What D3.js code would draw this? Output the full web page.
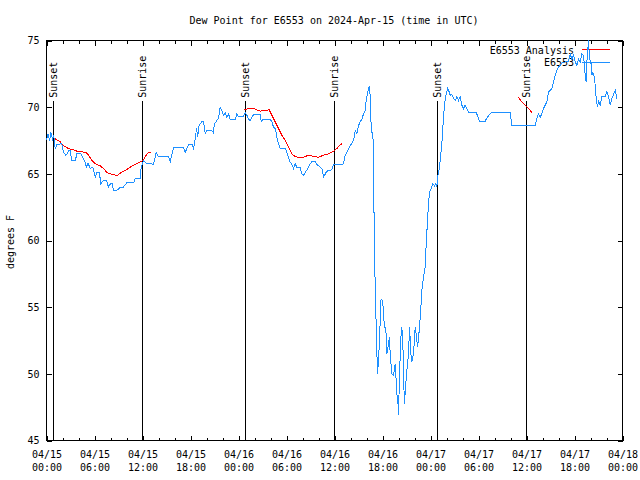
<!DOCTYPE html>
<html>
<head>
<meta charset="utf-8">
<script src="https://cdn.jsdelivr.net/npm/d3@7"></script>
<style>
  html, body { margin: 0; padding: 0; background: #fff; }
  svg { display: block; }
  text { font-family: "DejaVu Sans Mono", monospace; font-size: 10px; fill: #000; }
</style>
</head>
<body>
<svg id="chart" width="640" height="480"></svg>
<script>
// ---------------- data ----------------
const title = "Dew Point for E6553 on 2024-Apr-15 (time in UTC)";
const yLabel = "degrees F";
const startTime = "2024-04-15T00:00:00Z";
const endTime = "2024-04-18T00:00:00Z";
const yTickValues = [45, 50, 55, 60, 65, 70, 75];
const seriesNames = ["E6553 Analysis", "E6553"];
const seriesColors = ["#ff0000", "#1e90ff"];

// hours after 2024-04-15 00:00 UTC
const obsHours = [
  0.0, 0.2, 0.4, 0.55, 0.75, 0.9, 1.09, 1.3, 1.6, 1.9, 2.13, 2.4, 2.6, 2.75, 2.95, 3.17, 3.6, 3.8, 4.3, 4.63,
  4.8, 5.0, 5.2, 5.46, 5.8, 6.09, 6.3, 6.6, 6.8, 7.1, 7.5, 7.75, 8.0, 8.2, 8.38, 8.9, 9.21, 9.6, 10.05, 10.9,
  11.09, 11.7, 11.84, 12.13, 12.5, 13.1, 13.38, 13.71, 14.0, 15.25, 15.46, 15.88, 17.13, 17.34, 17.75, 18.2, 18.38, 18.59, 18.75, 18.9,
  19.05, 19.21, 19.4, 19.63, 19.84, 20.0, 20.67, 20.85, 21.0, 21.3, 21.5, 21.71, 21.9, 22.13, 22.35, 22.55, 22.75, 22.96, 23.59, 23.8,
  24.0, 24.63, 24.84, 25.05, 25.25, 25.45, 25.88, 26.71, 26.84, 27.13, 27.96, 28.17, 28.38, 28.6, 28.8, 29.0, 29.21, 29.84, 30.05, 30.25,
  30.45, 30.67, 30.88, 31.09, 31.3, 31.7, 31.92, 32.13, 32.35, 32.75, 32.95, 33.17, 33.6, 33.8, 34.2, 34.42, 34.63, 34.85, 35.05, 35.67,
  35.88, 36.71, 37.13, 37.34, 37.55, 37.96, 38.38, 38.59, 38.8, 39.0, 39.2, 39.42, 39.63, 39.84, 39.96, 40.13, 40.25, 40.38, 40.46, 40.55,
  40.67, 40.8, 40.88, 41.0, 41.17, 41.3, 41.38, 41.5, 41.63, 41.8, 41.92, 42.05, 42.21, 42.34, 42.46, 42.55, 42.75, 42.88, 42.96, 43.17,
  43.38, 43.59, 43.71, 43.8, 43.92, 44.0, 44.13, 44.3, 44.42, 44.55, 44.63, 44.75, 44.88, 45.05, 45.25, 45.38, 45.55, 45.67, 45.88, 46.09,
  46.21, 46.38, 46.63, 46.8, 46.92, 47.13, 47.34, 47.46, 47.63, 47.75, 47.88, 48.05, 48.3, 48.5, 48.67, 48.8, 48.88, 49.05, 49.21, 49.42,
  49.63, 49.75, 49.96, 50.13, 50.3, 50.46, 50.67, 50.88, 51.09, 51.3, 51.5, 51.71, 51.92, 52.13, 52.34, 52.55, 52.75, 53.71, 53.88, 54.13,
  54.84, 55.05, 55.46, 55.67, 57.96, 58.05, 58.17, 61.09, 61.3, 61.5, 61.71, 61.92, 62.13, 62.34, 62.55, 62.75, 62.96, 63.17, 63.38, 63.59,
  63.8, 64.0, 64.42, 64.84, 65.25, 65.46, 65.67, 65.88, 66.09, 66.3, 66.5, 66.71, 66.92, 67.13, 67.34, 67.46, 67.55, 67.75, 67.88, 68.05,
  68.17, 68.3, 68.46, 68.59, 68.71, 68.88, 69.0, 69.21, 69.42, 69.84, 70.05, 70.25, 70.46, 70.67, 70.88, 71.09, 71.3
];
const obsValues = [
  67.5, 68.0, 67.5, 68.1, 67.6, 67.9, 66.9, 67.2, 67.2, 67.3, 66.6, 66.4, 66.5, 66.75, 66.75, 66.0, 66.0, 66.5, 66.5, 66.1,
  65.9, 65.5, 65.8, 65.4, 65.5, 64.75, 65.1, 65.1, 64.25, 64.5, 64.5, 64.0, 64.25, 64.25, 63.75, 63.8, 64.0, 64.0, 64.33, 64.33,
  64.67, 64.67, 65.5, 66.0, 65.75, 65.75, 65.7, 66.6, 66.3, 66.3, 65.9, 66.95, 66.95, 66.6, 67.2, 67.2, 66.9, 67.6, 68.4, 67.8,
  68.6, 68.75, 68.9, 68.9, 68.0, 68.25, 68.25, 68.1, 68.75, 69.0, 69.2, 70.0, 69.75, 69.4, 69.6, 69.25, 69.5, 69.1, 69.1, 69.5,
  69.3, 69.3, 69.6, 69.4, 69.1, 69.0, 69.45, 69.45, 68.95, 69.1, 69.1, 68.9, 68.5, 68.4, 67.75, 67.25, 66.9, 66.9, 66.6, 66.25,
  65.9, 65.7, 65.4, 65.75, 65.5, 65.5, 65.0, 64.9, 65.1, 65.5, 65.75, 65.9, 65.9, 65.7, 65.5, 65.4, 64.75, 65.0, 65.2, 65.3,
  65.7, 65.7, 65.75, 66.4, 66.6, 67.1, 67.5, 68.25, 68.0, 68.6, 68.9, 69.1, 69.5, 69.75, 70.5, 71.0, 71.4, 71.6, 70.75, 69.0,
  68.1, 68.1, 65.1, 59.0, 54.5, 51.5, 50.0, 51.0, 52.5, 55.5, 55.6, 55.2, 53.75, 53.4, 53.0, 51.5, 52.25, 52.75, 51.5, 50.0,
  49.9, 50.75, 49.5, 48.5, 48.0, 46.9, 50.0, 52.75, 53.5, 52.25, 49.75, 47.75, 49.0, 50.25, 51.5, 53.5, 51.5, 50.9, 51.5, 53.5,
  53.0, 52.0, 53.5, 55.0, 56.25, 57.25, 58.0, 59.75, 61.5, 62.75, 63.6, 63.85, 64.25, 64.1, 64.25, 64.0, 64.75, 65.25, 66.0, 67.25,
  69.25, 70.25, 71.0, 71.4, 71.2, 70.9, 70.95, 70.65, 70.5, 70.8, 70.5, 70.8, 70.15, 69.9, 70.15, 69.9, 69.6, 69.6, 69.35, 68.95,
  68.95, 69.2, 69.5, 69.6, 69.6, 69.15, 68.6, 68.6, 69.15, 69.5, 69.25, 69.5, 69.9, 70.15, 70.4, 71.15, 71.25, 71.4, 71.9, 72.4,
  72.8, 73.0, 73.3, 73.4, 73.4, 74.0, 73.6, 73.9, 73.4, 73.15, 73.6, 73.4, 74.0, 73.9, 72.4, 71.9, 73.4, 75.0, 73.6, 73.4,
  72.4, 72.6, 72.3, 71.65, 70.65, 70.0, 70.5, 70.15, 70.8, 70.8, 71.15, 70.8, 70.15, 70.65, 70.95, 71.25, 70.65
];

// analysis: null separates segments
const anaHours = [
  0.8, 1.3, 1.71, 2.13, 2.75, 3.38, 3.8, 4.96, 5.25, 5.67, 6.09, 6.71, 7.13, 7.55, 7.96, 8.59, 8.88, 9.21, 9.84, 10.46,
  11.09, 11.71, 12.05, 12.46, 12.75, 13.09, null,
  24.75, 25.25, 25.88, 26.3, 26.71, 27.34, 27.84, 28.17, 28.59, 29.0, 29.42, 29.84, 30.25, 30.67, 31.09, 31.71, 32.13, 32.75, 33.38, 34.0,
  34.63, 35.25, 35.88, 36.3, 36.71, 36.92, null,
  58.88, 59.42, 59.84, 60.25, 60.67
];
const anaValues = [
  67.75, 67.55, 67.4, 67.1, 66.9, 66.8, 66.7, 66.6, 66.4, 66.0, 65.75, 65.6, 65.4, 65.1, 65.0, 64.9, 64.9, 65.05, 65.25, 65.5,
  65.7, 65.9, 66.0, 66.4, 66.6, 66.6, null,
  69.8, 69.9, 69.9, 69.8, 69.7, 69.75, 69.8, 69.4, 68.9, 68.4, 67.9, 67.5, 67.0, 66.5, 66.3, 66.2, 66.25, 66.4, 66.3, 66.25,
  66.4, 66.5, 66.7, 66.9, 67.2, 67.25, null,
  70.8, 70.4, 70.15, 69.9, 69.6
];

const sunEventTimes = ["2024-04-15T00:51:00Z", "2024-04-15T11:59:00Z", "2024-04-16T00:51:00Z",
                       "2024-04-16T11:58:00Z", "2024-04-17T00:52:00Z", "2024-04-17T11:57:00Z"];
const sunEventLabels = ["Sunset", "Sunrise", "Sunset", "Sunrise", "Sunset", "Sunrise"];

// ---------------- drawing ----------------
const svg = d3.select("#chart");
const L = 46.5, R = 622.5, T = 40.5, B = 440.5;
const t0 = new Date(startTime);
const hToDate = h => new Date(t0.getTime() + h * 3600e3);

const x = d3.scaleUtc().domain([new Date(startTime), new Date(endTime)]).range([L, R]);
const y = d3.scaleLinear().domain([45, 75]).range([B, T]);

// title & y label
svg.append("text").attr("x", 334).attr("y", 24).attr("text-anchor", "middle").text(title);
svg.append("text")
  .attr("transform", `translate(14,242) rotate(-90)`)
  .attr("text-anchor", "middle").text(yLabel);

function clean(g) { g.select(".domain").remove(); g.selectAll("line").attr("stroke", "#000").attr("shape-rendering", "crispEdges"); }

// bottom axis major with labels
const fmtDate = d3.utcFormat("%m/%d"), fmtTime = d3.utcFormat("%H:%M");
const gB = svg.append("g").attr("transform", `translate(0,${B})`)
  .call(d3.axisBottom(x).ticks(d3.utcHour.every(6)).tickSizeInner(-5).tickSizeOuter(0).tickPadding(0));
clean(gB);
gB.selectAll(".tick text").each(function(d) {
  const t = d3.select(this);
  t.text(null).attr("y", 0).attr("dy", null);
  t.append("tspan").attr("x", 0).attr("y", 17).text(fmtDate(d));
  t.append("tspan").attr("x", 0).attr("y", 30).text(fmtTime(d));
});
gB.selectAll("text").style("font-family", "DejaVu Sans Mono").style("font-size", "10px");
// bottom minor
const gBm = svg.append("g").attr("transform", `translate(0,${B})`)
  .call(d3.axisBottom(x).ticks(d3.utcHour.every(2)).tickSizeInner(-3).tickSizeOuter(0).tickFormat(""));
clean(gBm);
// top mirror
const gT = svg.append("g").attr("transform", `translate(0,${T})`)
  .call(d3.axisTop(x).ticks(d3.utcHour.every(6)).tickSizeInner(-5).tickSizeOuter(0).tickFormat(""));
clean(gT);
const gTm = svg.append("g").attr("transform", `translate(0,${T})`)
  .call(d3.axisTop(x).ticks(d3.utcHour.every(2)).tickSizeInner(-3).tickSizeOuter(0).tickFormat(""));
clean(gTm);

// left axis
const gL = svg.append("g").attr("transform", `translate(${L},0)`)
  .call(d3.axisLeft(y).tickValues(yTickValues).tickSizeInner(-5).tickSizeOuter(0).tickPadding(7));
clean(gL);
gL.selectAll("text").style("font-family", "DejaVu Sans Mono").style("font-size", "10px");
const gR = svg.append("g").attr("transform", `translate(${R},0)`)
  .call(d3.axisRight(y).tickValues(yTickValues).tickSizeInner(-5).tickSizeOuter(0).tickFormat(""));
clean(gR);

// frame
svg.append("rect").attr("x", L).attr("y", T).attr("width", R - L).attr("height", B - T)
  .attr("fill", "none").attr("stroke", "#000").attr("shape-rendering", "crispEdges");

// sun events
sunEventTimes.forEach((s, i) => {
  const xx = Math.round(x(new Date(s)) - 0.5) + 0.5;
  svg.append("line").attr("x1", xx).attr("x2", xx).attr("y1", y(70.5)).attr("y2", B)
    .attr("stroke", "#000").attr("shape-rendering", "crispEdges");
  svg.append("text").attr("transform", `translate(${xx},${y(70.7)}) rotate(-90)`)
    .attr("dy", "0.35em").text(sunEventLabels[i]);
});

// legend
const legY = [50, 62.5];
seriesNames.forEach((n, i) => {
  svg.append("text").attr("x", 574).attr("y", legY[i]).attr("dy", "0.35em").attr("text-anchor", "end").text(n);
  svg.append("line").attr("x1", 582).attr("x2", 610).attr("y1", Math.round(legY[i]) - 0.5).attr("y2", Math.round(legY[i]) - 0.5)
    .attr("stroke", seriesColors[i]).attr("shape-rendering", "crispEdges");
});

// lines
const anaData = anaHours.map((h, i) => ({ h, v: anaValues[i] }));
const obsData = obsHours.map((h, i) => ({ h, v: obsValues[i] }));
const line = d3.line().defined(d => d.h !== null && d.v !== null)
  .x(d => x(hToDate(d.h))).y(d => y(d.v));

svg.append("path").datum(anaData).attr("d", line).attr("fill", "none")
  .attr("stroke", seriesColors[0]).attr("stroke-width", 1).attr("shape-rendering", "crispEdges");
svg.append("path").datum(obsData).attr("d", line).attr("fill", "none")
  .attr("stroke", seriesColors[1]).attr("stroke-width", 1).attr("shape-rendering", "crispEdges");
</script>
</body>
</html>
